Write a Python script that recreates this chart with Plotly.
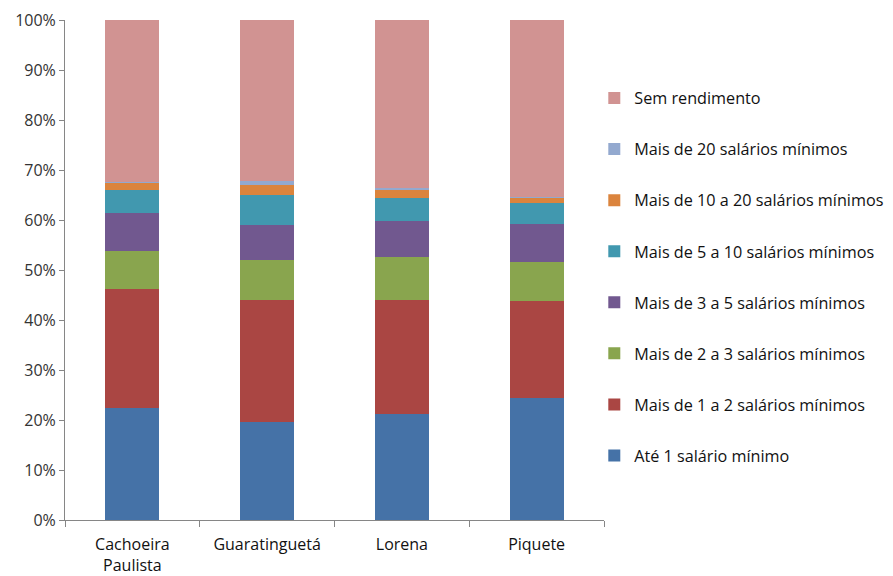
import plotly.graph_objects as go

# Municipalities on the category axis
cidades = ["Cachoeira<br>Paulista", "Guaratinguetá", "Lorena", "Piquete"]

# Share of households (%) by income bracket, bottom to top of each stack
ate_1 = [22.5, 19.7, 21.3, 24.5]
de_1_a_2 = [23.7, 24.4, 22.8, 19.4]
de_2_a_3 = [7.7, 8.0, 8.5, 7.7]
de_3_a_5 = [7.6, 7.0, 7.3, 7.7]
de_5_a_10 = [4.5, 5.9, 4.6, 4.1]
de_10_a_20 = [1.4, 2.0, 1.6, 1.1]
mais_20 = [0.2, 0.8, 0.4, 0.1]
sem_rendimento = [32.4, 32.2, 33.5, 35.4]

y_ticks = [0, 10, 20, 30, 40, 50, 60, 70, 80, 90, 100]
y_tick_labels = [f"{v}%" for v in y_ticks]

series = [
    ("Até 1 salário mínimo", ate_1, "#4572A7"),
    ("Mais de 1 a 2 salários mínimos", de_1_a_2, "#AA4643"),
    ("Mais de 2 a 3 salários mínimos", de_2_a_3, "#89A54E"),
    ("Mais de 3 a 5 salários mínimos", de_3_a_5, "#71588F"),
    ("Mais de 5 a 10 salários mínimos", de_5_a_10, "#4198AF"),
    ("Mais de 10 a 20 salários mínimos", de_10_a_20, "#DB843D"),
    ("Mais de 20 salários mínimos", mais_20, "#93A9CF"),
    ("Sem rendimento", sem_rendimento, "#D19392"),
]

fig = go.Figure()
n = len(series)
for i, (nome, valores, cor) in enumerate(series):
    fig.add_trace(go.Bar(
        x=cidades, y=valores, name=nome,
        marker=dict(color=cor, line=dict(width=0)),
        legendgroup=f"g{i}",
        legendrank=n - i,  # top stack segment listed first
    ))

font_family = "Open Sans, Noto Sans, sans-serif"

fig.update_layout(
    barmode="stack",
    bargap=0.6,
    width=893, height=576,
    margin=dict(l=65, r=289, t=20, b=56, autoexpand=False),
    paper_bgcolor="white",
    plot_bgcolor="white",
    font=dict(family=font_family, size=15, color="#222222"),
    legend=dict(
        traceorder="grouped",
        tracegroupgap=27,
        x=0.982, xref="paper", xanchor="left",
        y=0.878, yanchor="top",
        font=dict(family=font_family, size=16.2, color="#111111"),
        itemwidth=30,
        bgcolor="rgba(0,0,0,0)",
    ),
    xaxis=dict(
        showline=True, linecolor="#868686", linewidth=1,
        ticks="outside", tickson="boundaries", ticklen=6, tickcolor="#868686",
        ticklabelstandoff=10,
        tickfont=dict(size=16, color="#111111"),
        showgrid=False,
    ),
    yaxis=dict(
        range=[0, 100],
        tickvals=y_ticks,
        ticktext=y_tick_labels,
        showline=True, linecolor="#868686", linewidth=1,
        ticks="outside", ticklen=5, tickcolor="#868686",
        tickfont=dict(size=16, color="#333333"),
        showgrid=False, zeroline=False,
    ),
)

fig.write_html("out.html")
